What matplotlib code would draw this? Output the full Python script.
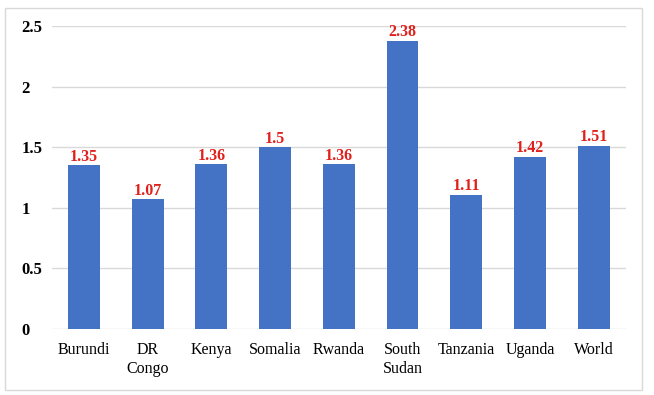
import matplotlib
matplotlib.use("Agg")
import matplotlib.pyplot as plt
from matplotlib.patches import Rectangle

countries = ["Burundi", "DR\nCongo", "Kenya", "Somalia", "Rwanda", "South\nSudan",
             "Tanzania", "Uganda", "World"]
values = [1.35, 1.07, 1.36, 1.5, 1.36, 2.38, 1.11, 1.42, 1.51]
labels = ["1.35", "1.07", "1.36", "1.5", "1.36", "2.38", "1.11", "1.42", "1.51"]
yticks = [0, 0.5, 1, 1.5, 2, 2.5]
ytick_labels = ["0", "0.5", "1", "1.5", "2", "2.5"]

plt.rcParams['font.family'] = ['Liberation Serif', 'DejaVu Serif']

fig = plt.figure(figsize=(6.54, 3.95), dpi=100)
ax = fig.add_axes([0.0795, 0.167, 0.877, 0.767])

x = range(len(countries))
bars = ax.bar(x, values, width=0.5, color="#4472C4", zorder=3)
for b, lab in zip(bars, labels):
    ax.text(b.get_x() + b.get_width() / 2, b.get_height() + 0.005, lab,
            ha="center", va="bottom", color="#E0201B", fontsize=11.5,
            fontweight="bold", zorder=4)

ax.set_xlim(-0.5, len(countries) - 0.5)
ax.set_ylim(0, 2.5)
ax.set_yticks(yticks)
ax.set_yticklabels(ytick_labels, fontsize=12, fontweight="bold")
ax.set_xticks(list(x))
ax.set_xticklabels(countries, fontsize=11.5, linespacing=1.3)
ax.tick_params(axis="x", length=0, pad=9)
ax.tick_params(axis="y", length=0, pad=22)
for lab in ax.get_yticklabels():
    lab.set_horizontalalignment("left")
ax.yaxis.grid(True, color="#D9D9D9", linewidth=1, zorder=0)
for s in ax.spines.values():
    s.set_visible(False)

# light frame round the whole chart
fig.patches.append(Rectangle((5 / 654, 5 / 395), 637 / 654, 382 / 395,
                             transform=fig.transFigure, fill=False,
                             edgecolor="#D9D9D9", linewidth=1))

fig.savefig("out.png", dpi=100)
